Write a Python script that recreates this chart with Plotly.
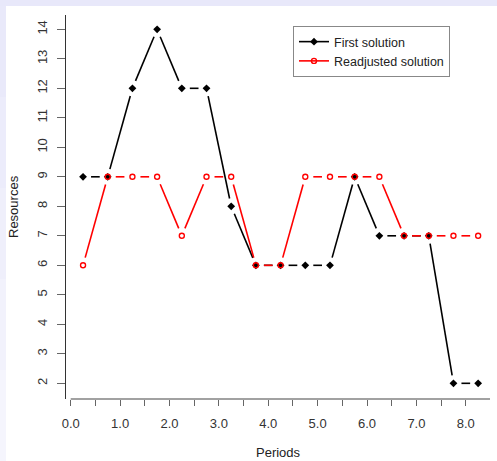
import math
import plotly.graph_objects as go

# ---- data ----
periods = [0.25, 0.75, 1.25, 1.75, 2.25, 2.75, 3.25, 3.75, 4.25,
           4.75, 5.25, 5.75, 6.25, 6.75, 7.25, 7.75, 8.25]
first_solution = [9, 9, 12, 14, 12, 12, 8, 6, 6, 6, 6, 9, 7, 7, 7, 2, 2]
readjusted_solution = [6, 9, 9, 9, 7, 9, 9, 6, 6, 9, 9, 9, 9, 7, 7, 7, 7]
x_tick_vals = [0.0, 0.5, 1.0, 1.5, 2.0, 2.5, 3.0, 3.5, 4.0, 4.5,
               5.0, 5.5, 6.0, 6.5, 7.0, 7.5, 8.0, 8.5]
x_tick_text = ["0.0", "", "1.0", "", "2.0", "", "3.0", "", "4.0", "",
               "5.0", "", "6.0", "", "7.0", "", "8.0", ""]
y_tick_vals = [2, 3, 4, 5, 6, 7, 8, 9, 10, 11, 12, 13, 14]

# ---- layout geometry ----
W, H = 497, 461
ML, MR, MT, MB = 66, 7, 15, 62
PW, PH = W - ML - MR, H - MT - MB
XR = [-0.095, 8.49]
YR = [1.468, 14.485]
PX_X = PW / (XR[1] - XR[0])
PX_Y = PH / (YR[1] - YR[0])
GAP = 8  # pixel gap around points (R type="b")

FONT = "Liberation Sans, Arial, sans-serif"


def gapped(xs, ys, gap=GAP):
    ox, oy = [], []
    for i in range(len(xs) - 1):
        dxd, dyd = xs[i + 1] - xs[i], ys[i + 1] - ys[i]
        d = math.hypot(dxd * PX_X, dyd * PX_Y)
        if d <= 2 * gap:
            continue
        f = gap / d
        ox += [xs[i] + dxd * f, xs[i + 1] - dxd * f, None]
        oy += [ys[i] + dyd * f, ys[i + 1] - dyd * f, None]
    return ox, oy


fig = go.Figure()

bx, by = gapped(periods, first_solution)
rx, ry = gapped(periods, readjusted_solution)

fig.add_trace(go.Scatter(x=bx, y=by, mode="lines", line=dict(color="black", width=1.6),
                         showlegend=False, hoverinfo="skip"))
fig.add_trace(go.Scatter(x=rx, y=ry, mode="lines", line=dict(color="#ff0000", width=1.6),
                         showlegend=False, hoverinfo="skip"))
fig.add_trace(go.Scatter(x=periods, y=first_solution, mode="markers",
                         marker=dict(symbol="diamond", size=6, color="black"),
                         showlegend=False))
fig.add_trace(go.Scatter(x=periods, y=readjusted_solution, mode="markers",
                         marker=dict(symbol="circle-open", size=5, color="#ff0000",
                                     line=dict(width=1.4, color="#ff0000")),
                         showlegend=False))

# legend entries
fig.add_trace(go.Scatter(x=[None], y=[None], mode="lines+markers", name="First solution",
                         line=dict(color="black", width=1.6),
                         marker=dict(symbol="diamond", size=6, color="black")))
fig.add_trace(go.Scatter(x=[None], y=[None], mode="lines+markers", name="Readjusted solution",
                         line=dict(color="#ff0000", width=1.6),
                         marker=dict(symbol="circle-open", size=5, color="#ff0000",
                                     line=dict(width=1.4, color="#ff0000"))))

shapes = []


def px_to_paper_x(px):
    return (px - ML) / PW


def px_to_paper_y(py):
    return (H - MB - py) / PH


# lavender outer border (top and left strips)
shapes.append(dict(type="rect", xref="paper", yref="paper",
                   x0=px_to_paper_x(0), x1=px_to_paper_x(W), y0=px_to_paper_y(6), y1=px_to_paper_y(0),
                   fillcolor="#e8e8fa", line=dict(width=0), layer="above"))
bands = ["#e9e9fa", "#ececfb", "#efeffb", "#f2f2fc", "#f5f5fd"]
for i, c in enumerate(bands):
    y_top = 6 + i * (H - 6) / len(bands)
    y_bot = 6 + (i + 1) * (H - 6) / len(bands)
    shapes.append(dict(type="rect", xref="paper", yref="paper",
                       x0=px_to_paper_x(0), x1=px_to_paper_x(6),
                       y0=px_to_paper_y(y_bot), y1=px_to_paper_y(y_top),
                       fillcolor=c, line=dict(width=0), layer="above"))
# x axis line from first to last tick (R style)
shapes.append(dict(type="line", xref="x", yref="paper", x0=x_tick_vals[0], x1=x_tick_vals[-1],
                   y0=0, y1=0, line=dict(color="#444", width=1.2)))

fig.update_layout(
    template="none",
    width=W, height=H,
    margin=dict(l=ML, r=MR, t=MT, b=MB, pad=0, autoexpand=False),
    paper_bgcolor="white", plot_bgcolor="white",
    font=dict(family=FONT, color="#222", size=13),
    xaxis=dict(range=XR, showgrid=False, zeroline=False, showline=False, automargin=False,
               tickmode="array", tickvals=x_tick_vals, ticktext=x_tick_text,
               ticks="outside", ticklen=6, tickwidth=1.2, tickcolor="#666",
               ticklabelstandoff=6, tickfont=dict(size=13, color="#333")),
    yaxis=dict(range=YR, showgrid=False, zeroline=False, showline=True, automargin=False,
               linecolor="#333", linewidth=1.2,
               tickmode="array", tickvals=y_tick_vals,
               ticks="outside", ticklen=8, tickwidth=1.2, tickcolor="#666",
               tickangle=-90, ticklabelstandoff=5, tickfont=dict(size=13, color="#333")),
    legend=dict(x=px_to_paper_x(293), y=px_to_paper_y(26), xanchor="left", yanchor="top",
                bgcolor="white", bordercolor="#888", borderwidth=1,
                font=dict(size=12.5, color="#222", family=FONT),
                tracegroupgap=0),
    shapes=shapes,
    annotations=[
        dict(text="Resources", xref="paper", yref="paper", x=0, y=0.5, xanchor="center",
             yanchor="middle", textangle=-90, xshift=13 - ML, showarrow=False,
             font=dict(size=13, color="#222")),
        dict(text="Periods", xref="paper", yref="paper", x=0.5, y=0, xanchor="center",
             yanchor="middle", yshift=-(452 - (H - MB)), showarrow=False,
             font=dict(size=13, color="#222")),
    ],
)

fig.write_html("out.html",
               config={"displayModeBar": False},
               post_script="document.body.style.margin='0';document.body.style.padding='0';"
                           "document.body.style.overflow='hidden';")
